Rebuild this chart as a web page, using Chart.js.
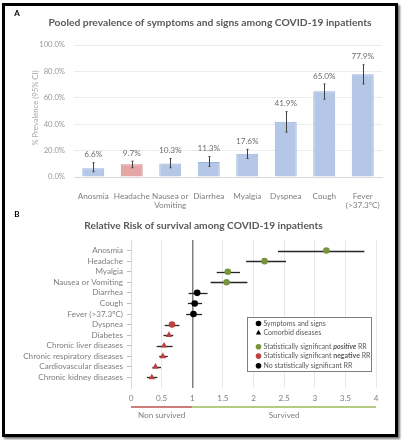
<!DOCTYPE html>
<html><head><meta charset="utf-8">
<script src="https://cdn.jsdelivr.net/npm/chart.js@4.4.0/dist/chart.umd.min.js"></script>
<style>
html,body{margin:0;padding:0;background:#fff;}
#wrap{position:relative;width:402px;height:440px;overflow:hidden;background:#fff;}
#frame{position:absolute;left:2px;top:3px;width:396px;height:434px;box-sizing:border-box;border:3px solid #000;box-shadow:2px 2px 2px rgba(0,0,0,0.55);pointer-events:none;z-index:3;}
#cA{position:absolute;left:0;top:0;z-index:2;}
#cB{position:absolute;left:0;top:205px;z-index:1;}
</style></head><body>
<div id="wrap">
<canvas id="cA" width="402" height="215"></canvas>
<canvas id="cB" width="402" height="235"></canvas>
<div id="frame"></div>
</div>
<script>
// ---------- Panel A data ----------
const symptoms = ['Anosmia','Headache',['Nausea or','Vomiting'],'Diarrhea','Myalgia','Dyspnea','Cough',['Fever','(>37.3ºC)']];
const prevalence = [6.6, 9.7, 10.3, 11.3, 17.6, 41.9, 65.0, 77.9];
const ciLow  = [4.0, 7.0, 7.0, 8.0, 14.0, 34.0, 59.0, 70.5];
const ciHigh = [10.8, 12.0, 14.0, 15.5, 21.0, 49.5, 70.5, 85.0];
const highlighted = 'Headache';
const titleA = 'Pooled prevalence of symptoms and signs among COVID-19 inpatients';
const yTitleA = '% Prevalence (95% CI)';

// ---------- Panel B data ----------
const rrLabels = ['Anosmia','Headache','Myalgia','Nausea or Vomiting','Diarrhea','Cough','Fever (>37.3ºC)','Dyspnea','Diabetes','Chronic liver diseases','Chronic respiratory diseases','Cardiovascular diseases','Chronic kidney diseases'];
const rr     = [3.19, 2.18, 1.58, 1.56, 1.08, 1.04, 1.02, 0.67, 0.62, 0.54, 0.52, 0.40, 0.34];
const rrLow  = [2.40, 1.88, 1.40, 1.30, 0.94, 0.93, 0.90, 0.55, 0.53, 0.42, 0.46, 0.35, 0.26];
const rrHigh = [3.81, 2.53, 1.78, 1.90, 1.25, 1.16, 1.16, 0.79, 0.69, 0.68, 0.60, 0.49, 0.43];
const rrType = ['sign','sign','sign','sign','sign','sign','sign','sign','comorbid','comorbid','comorbid','comorbid','comorbid'];
const rrSignif = ['positive','positive','positive','positive','none','none','none','negative','negative','negative','negative','negative','negative'];
const titleB = 'Relative Risk of survival among COVID-19 inpatients';

// ---------- styling ----------
const FONT = 'Lato, "Open Sans", sans-serif';
const GREY_T = '#595959';
const BLUE = '#b4c7e7', BLUE_B = '#9db4d8', PINK = '#e4a5a5', PINK_B = '#cf8f8f';
const SIG_COL = {positive:'#77933c', negative:'#b8433f', none:'#000000'};

const mctx = document.createElement('canvas').getContext('2d');
function fitSize(text, weight, target){
  mctx.font = weight + ' 100px ' + FONT;
  return Math.round(target / mctx.measureText(text).width * 1000) / 10;
}
const fsTitle = fitSize(titleA, 'bold', 322);
const fsTitleB = fitSize(titleB, 'bold', 239);
const fsXA = fitSize('Headache', 'normal', 36);
const fsYA = fitSize('100.0%', 'normal', 26);
const fsRow = fitSize('Chronic respiratory diseases', 'normal', 100);
const fsLeg = fitSize('Symptoms and signs', 'normal', 62);

// ---------- Chart A ----------
const plugA = {
  id:'plugA',
  afterDatasetsDraw(chart){
    const {ctx, scales:{y}} = chart;
    const meta = chart.getDatasetMeta(0);
    ctx.save();
    meta.data.forEach((bar,i)=>{
      const px = Math.round(bar.x) + 0.5;
      const yl = y.getPixelForValue(ciLow[i]), yh = y.getPixelForValue(ciHigh[i]);
      ctx.strokeStyle = '#404040'; ctx.lineWidth = 1;
      ctx.beginPath(); ctx.moveTo(px, yl); ctx.lineTo(px, yh); ctx.stroke();
      ctx.beginPath(); ctx.moveTo(px-1, yl); ctx.lineTo(px+1, yl); ctx.moveTo(px-1, yh); ctx.lineTo(px+1, yh); ctx.stroke();
      ctx.fillStyle = '#6f6f6f';
      ctx.font = fsXA + 'px ' + FONT;
      ctx.textAlign = 'center'; ctx.textBaseline = 'middle';
      ctx.fillText(prevalence[i].toFixed(1) + '%', bar.x, yh - 8);
    });
    ctx.restore();
  },
  afterDraw(chart){
    const {ctx, chartArea} = chart;
    ctx.save();
    ctx.fillStyle = '#000'; ctx.font = 'bold 8px ' + FONT;
    ctx.textAlign = 'center'; ctx.textBaseline = 'middle';
    ctx.fillText('A', 17, 13);
    ctx.fillStyle = GREY_T; ctx.font = 'bold ' + fsTitle + 'px ' + FONT;
    ctx.fillText(titleA, 210, 23);
    ctx.fillStyle = '#a6a6a6'; ctx.font = fsYA + 'px ' + FONT;
    ctx.translate(36, (chartArea.top + chartArea.bottom)/2 - 3);
    ctx.rotate(-Math.PI/2);
    ctx.fillText(yTitleA, 0, 0);
    ctx.restore();
  }
};

new Chart(document.getElementById('cA'), {
  type:'bar',
  data:{
    labels: symptoms,
    datasets:[{
      data: prevalence,
      backgroundColor: symptoms.map(s => s === highlighted ? PINK : BLUE),
      borderColor: symptoms.map(s => s === highlighted ? PINK_B : BLUE_B),
      borderWidth: 1,
      barPercentage: 0.57,
      categoryPercentage: 1
    }]
  },
  options:{
    responsive:false, animation:false, devicePixelRatio:1,
    layout:{padding:{top:45, right:20, left:0, bottom:0}},
    plugins:{legend:{display:false}, tooltip:{enabled:false}},
    scales:{
      x:{
        grid:{display:false},
        border:{display:true, color:'#d9d9d9'},
        ticks:{color:'#7f7f7f', font:{family:FONT, size:fsXA}, padding:6, maxRotation:0, autoSkip:false},
        afterFit(s){ s.height = 38; }
      },
      y:{
        min:0, max:100,
        ticks:{stepSize:20, callback:v => v.toFixed(1) + '%', color:'#9a9a9a', font:{family:FONT, size:fsYA}, padding:9},
        grid:{color:'#ececec', drawTicks:false},
        border:{display:false},
        afterFit(s){ s.width = 74; }
      }
    }
  },
  plugins:[plugA]
});

// ---------- Chart B ----------
const yLabelsB = [''].concat(rrLabels, ['']);

function drawMarker(ctx, type, x, y, r, col){
  ctx.fillStyle = col;
  ctx.beginPath();
  if (type === 'triangle'){
    ctx.moveTo(x, y - r); ctx.lineTo(x + r*0.95, y + r*0.7); ctx.lineTo(x - r*0.95, y + r*0.7); ctx.closePath();
  } else {
    ctx.arc(x, y, r, 0, Math.PI*2);
  }
  ctx.fill();
}
function richText(ctx, parts, x, y){
  let cx = x;
  parts.forEach(([t, st]) => {
    ctx.font = st + ' ' + fsLeg + 'px ' + FONT;
    ctx.fillText(t, cx, y);
    cx += ctx.measureText(t).width;
  });
}

const plugB = {
  id:'plugB',
  beforeDatasetsDraw(chart){
    const {ctx, scales:{x, y}} = chart;
    ctx.save();
    ctx.strokeStyle = '#262626'; ctx.lineWidth = 1.3;
    rrLabels.forEach((l,i)=>{
      const py = Math.round(y.getPixelForValue(i + 1)) + 0.5;
      const x0 = x.getPixelForValue(rrLow[i]), x1 = x.getPixelForValue(rrHigh[i]);
      ctx.beginPath(); ctx.moveTo(x0, py); ctx.lineTo(x1, py); ctx.stroke();
    });
    ctx.restore();
  },
  afterDraw(chart){
    const {ctx, scales:{x}, chartArea} = chart;
    ctx.save();
    ctx.textAlign = 'center'; ctx.textBaseline = 'middle';
    ctx.fillStyle = '#000'; ctx.font = 'bold 8px ' + FONT;
    ctx.fillText('B', 17, 9);
    ctx.fillStyle = GREY_T; ctx.font = 'bold ' + fsTitleB + 'px ' + FONT;
    ctx.fillText(titleB, 203.5, 21);
    // survival bars
    const p0 = x.getPixelForValue(0), p1 = x.getPixelForValue(1), p4 = x.getPixelForValue(4);
    const by = chartArea.bottom + 19;
    ctx.lineWidth = 1.5;
    ctx.strokeStyle = '#c0504d'; ctx.beginPath(); ctx.moveTo(p0, by); ctx.lineTo(p1, by); ctx.stroke();
    ctx.strokeStyle = '#9bbb59'; ctx.beginPath(); ctx.moveTo(p1, by); ctx.lineTo(p4, by); ctx.stroke();
    ctx.fillStyle = '#7f7f7f'; ctx.font = fsRow + 'px ' + FONT;
    ctx.fillText('Non survived', (p0 + p1)/2, by + 8);
    ctx.fillText('Survived', (p1 + p4)/2, by + 8);
    // legend box
    const bx = 247.5, bt = 112.5, bw = 124, bh = 54;
    ctx.fillStyle = '#fff'; ctx.fillRect(bx, bt, bw, bh);
    ctx.strokeStyle = '#7f7f7f'; ctx.lineWidth = 1; ctx.strokeRect(bx, bt, bw, bh);
    const mx = 258.5, tx = 263.5;
    const rows = [
      [6, 'circle', '#000', [['Symptoms and signs','normal']]],
      [15, 'triangle', '#000', [['Comorbid diseases','normal']]],
      [29.3, 'circle', SIG_COL.positive, [['Statistically significant ','normal'],['positive','italic bold'],[' RR','normal']]],
      [38.6, 'circle', SIG_COL.negative, [['Statistically significant ','normal'],['negative','bold'],[' RR','normal']]],
      [48.2, 'circle', SIG_COL.none, [['No statistically significant RR','normal']]]
    ];
    ctx.textAlign = 'left';
    rows.forEach(([dy, mk, col, parts]) => {
      drawMarker(ctx, mk, mx, bt + dy, 2.8, col);
      ctx.fillStyle = GREY_T;
      richText(ctx, parts, tx, bt + dy);
    });
    ctx.restore();
  }
};

new Chart(document.getElementById('cB'), {
  type:'scatter',
  data:{
    datasets:[{
      data: rrLabels.map((l,i) => ({x: rr[i], y: l})),
      pointStyle: rrType.map(t => t === 'sign' ? 'circle' : 'triangle'),
      pointRadius: rrType.map(t => t === 'sign' ? 3.3 : 3.8),
      pointBackgroundColor: rrSignif.map(s => SIG_COL[s]),
      pointBorderColor: rrSignif.map(s => SIG_COL[s]),
      pointBorderWidth: 0
    }]
  },
  options:{
    responsive:false, animation:false, devicePixelRatio:1,
    layout:{padding:{top:35, right:26, left:0, bottom:0}},
    plugins:{legend:{display:false}, tooltip:{enabled:false}},
    scales:{
      x:{
        type:'linear', min:0, max:4,
        ticks:{stepSize:0.5, callback:v => String(v), color:'#7f7f7f', font:{family:FONT, size:fsRow}, padding:6},
        grid:{
          drawTicks:false,
          color: c => (c.tick && c.tick.value === 1) ? '#7f7f7f' : '#e6e6e6',
          lineWidth: c => (c.tick && c.tick.value === 1) ? 1.5 : 1
        },
        border:{display:false},
        afterFit(s){ s.height = 52; }
      },
      y:{
        type:'category', labels: yLabelsB, offset:false,
        ticks:{autoSkip:false, color:'#7f7f7f', font:{family:FONT, size:fsRow}, padding:4},
        grid:{
          drawOnChartArea:false, drawTicks:true, tickLength:4,
          color: c => (c.index === 0 || c.index === yLabelsB.length - 1) ? 'rgba(0,0,0,0)' : '#bfbfbf'
        },
        border:{display:true, color:'#d9d9d9'},
        afterFit(s){ s.width = 131; }
      }
    }
  },
  plugins:[plugB]
});
</script>
</body></html>
